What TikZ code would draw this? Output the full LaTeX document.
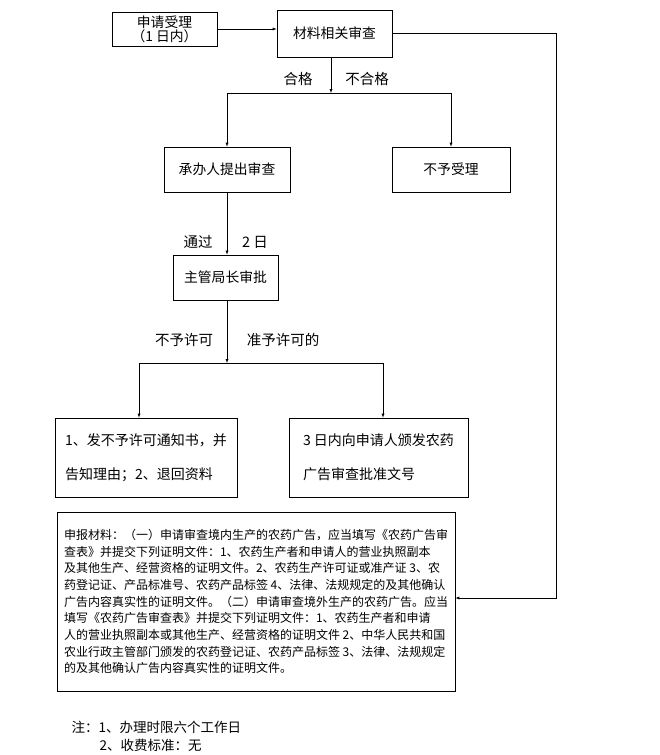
\documentclass[tikz,border=0pt]{standalone}
\usepackage{fontspec}
\setmainfont{Noto Sans CJK SC}
\begin{document}
\begin{tikzpicture}[
                        x=1pt, y=-1pt,
                        >=latex,
                        blk/.style={rectangle, draw, line width=0.7pt, inner sep=2pt, align=center, font=\fontsize{13.8}{14}\selectfont},
                        lbl/.style={font=\fontsize{14.5}{16}\selectfont}
                    ]
                    \useasboundingbox (0,0) rectangle (659,755);
                    % Blocks
                    \node [blk, minimum width=105pt, minimum height=34pt] (apply) at (164.5,29) {申请受理\\（1 日内）};
                    \node [blk, minimum width=115pt, minimum height=47pt] (check) at (334.5,33.5) {材料相关审查};
                    \node [blk, minimum width=126pt, minimum height=45pt] (handler) at (227,169.5) {承办人提出审查};
                    \node [blk, minimum width=118pt, minimum height=45pt] (reject) at (451,169.5) {不予受理};
                    \node [blk, minimum width=105pt, minimum height=45pt] (chief) at (225.5,277.5) {主管局长审批};
                    \node [blk, minimum width=182pt, minimum height=79pt, align=left, font=\fontsize{14}{34}\selectfont] (deny) at (146,457.5) {1、发不予许可通知书，并\\告知理由；2、退回资料};
                    \node [blk, minimum width=179pt, minimum height=79pt, align=left, font=\fontsize{14}{34}\selectfont] (grant) at (378.5,457.5) {3 日内向申请人颁发农药\\广告审查批准文号};
                    \node [blk, minimum width=398pt, minimum height=179pt, align=left, font=\fontsize{12}{16.7}\selectfont] (materials) at (256,601.5) {申报材料：（一）申请审查境内生产的农药广告，应当填写《农药广告审\\查表》并提交下列证明文件：1、农药生产者和申请人的营业执照副本\\及其他生产、经营资格的证明文件。2、农药生产许可证或准产证 3、农\\药登记证、产品标准号、农药产品标签 4、法律、法规规定的及其他确认\\广告内容真实性的证明文件。（二）申请审查境外生产的农药广告。应当\\填写《农药广告审查表》并提交下列证明文件：1、农药生产者和申请\\人的营业执照副本或其他生产、经营资格的证明文件 2、中华人民共和国\\农业行政主管部门颁发的农药登记证、农药产品标签 3、法律、法规规定\\的及其他确认广告内容真实性的证明文件。};

                    % Labels
                    \node [lbl] (pass1) at (298,79) {合格};
                    \node [lbl] (fail1) at (367,79) {不合格};
                    \node [lbl] (pass2) at (198,242) {通过};
                    \node [lbl] (days2) at (255,242) {2 日};
                    \node [lbl] (deny1) at (184,340) {不予许可};
                    \node [lbl] (grant1) at (283,340) {准予许可的};
                    \node [anchor=base west, font=\fontsize{13.5}{14}\selectfont] (note1) at (68,732) {注：1、办理时限六个工作日};
                    \node [anchor=base west, font=\fontsize{13.5}{14}\selectfont] (note2) at (96,750) {2、收费标准：无};

                    % Connections
                    \coordinate (split1) at (331,93);
                    \coordinate (split2) at (227,363);
                    \coordinate (dropl) at (139,363);
                    \coordinate (dropr) at (383,363);
                    \coordinate (back) at (556,598);
                    \draw [->] (apply.east) -- (apply.east -| check.west);
                    \draw [->] (split1 |- check.south) -- (split1);
                    \draw (handler.north |- split1) -- (reject.north |- split1);
                    \draw [->] (handler.north |- split1) -- (handler.north);
                    \draw [->] (reject.north |- split1) -- (reject.north);
                    \draw [->] (handler.south) -- (handler.south |- chief.north);
                    \draw [->] (split2 |- chief.south) -- (split2);
                    \draw (dropl) -- (dropr);
                    \draw [->] (dropl) -- (dropl |- deny.north);
                    \draw [->] (dropr) -- (dropr |- grant.north);
                    \draw [->] (check.east) -| (back) -- (back -| materials.east);
                \end{tikzpicture}
\end{document}
